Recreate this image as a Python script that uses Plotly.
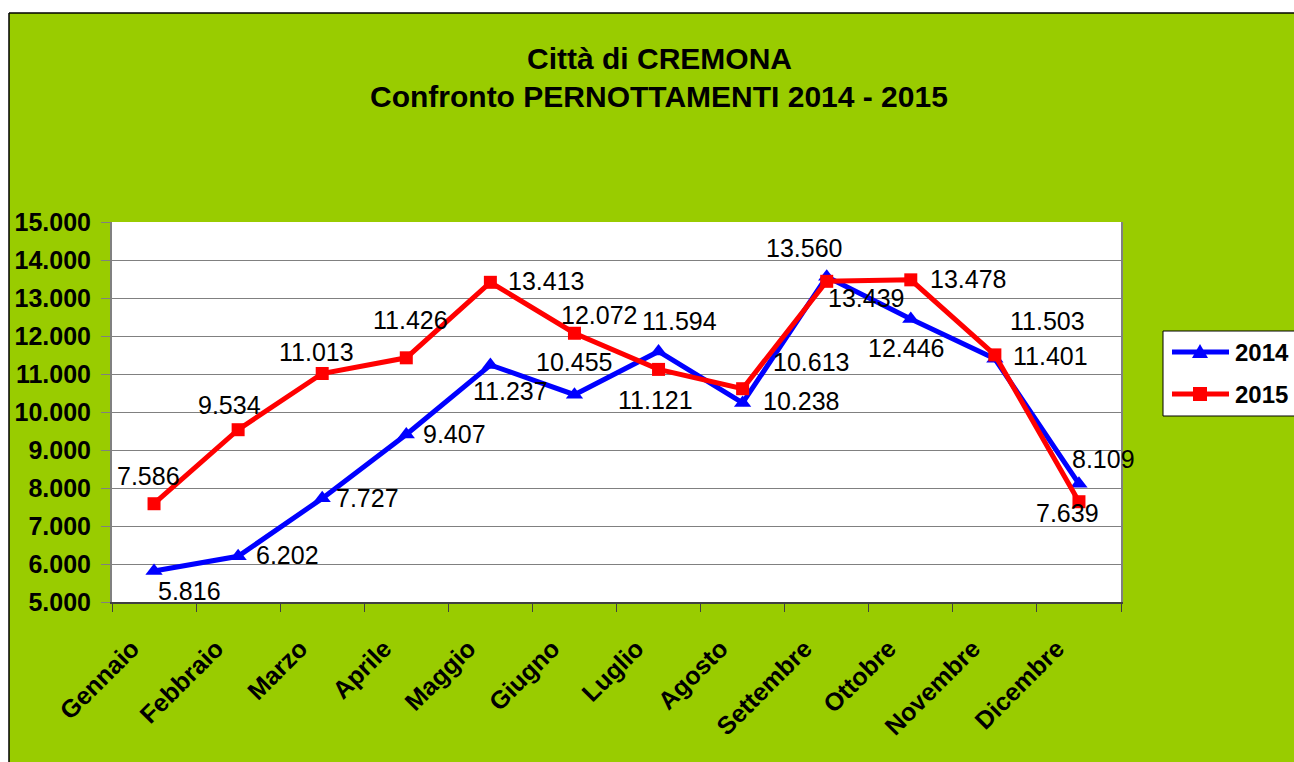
import plotly.graph_objects as go

months = ["Gennaio", "Febbraio", "Marzo", "Aprile", "Maggio", "Giugno",
          "Luglio", "Agosto", "Settembre", "Ottobre", "Novembre", "Dicembre"]
values_2014 = [5816, 6202, 7727, 9407, 11237, 10455, 11594, 10238, 13560, 12446, 11401, 8109]
values_2015 = [7586, 9534, 11013, 11426, 13413, 12072, 11121, 10613, 13439, 13478, 11503, 7639]
series_names = ["2014", "2015"]
title_lines = ["Città di CREMONA", "Confronto PERNOTTAMENTI 2014 - 2015"]

# label offsets in pixels (dx, dy down-positive)
offsets_2014 = [(35, 20), (49, -1), (45, 0), (48, -1), (20, 26), (0, -33),
                (21, -30), (58, -2), (-23, -29), (-5, 29), (56, -3), (25, -25)]
offsets_2015 = [(-6, -28), (-9, -25), (-6, -22), (4, -38), (56, -1), (25, -18),
                (-3, 31), (68, -27), (39, 17), (57, -1), (53, -34), (-11, 11)]

FONT = "Arial, 'Liberation Sans', sans-serif"
GREEN = "#99CC00"
BLUE = "#0000FF"
RED = "#FF0000"

W, H = 1294, 762
L, R, T, B = 112, 1121, 222, 602  # plot area in px
pw, ph = R - L, B - T


def px(x):
    return (x - L) / pw


def py(y):
    return (B - y) / ph


def fmt(v):
    return f"{v:,}".replace(",", ".")


fig = go.Figure()
fig.add_trace(go.Scatter(
    x=months, y=values_2014, name=series_names[0], mode="lines+markers",
    line=dict(color=BLUE, width=5),
    marker=dict(symbol="triangle-up", size=15, color=BLUE),
))
fig.add_trace(go.Scatter(
    x=months, y=values_2015, name=series_names[1], mode="lines+markers",
    line=dict(color=RED, width=5),
    marker=dict(symbol="square", size=13, color=RED),
))

annotations = []
for vals, offs in ((values_2014, offsets_2014), (values_2015, offsets_2015)):
    for m, v, (dx, dy) in zip(months, vals, offs):
        annotations.append(dict(
            x=m, y=v, xref="x", yref="y", text=fmt(v), showarrow=False,
            xshift=dx, yshift=-dy, xanchor="center", yanchor="middle",
            font=dict(family=FONT, size=25, color="black"),
        ))

for line, ycen in zip(title_lines, (58, 97)):
    annotations.append(dict(
        x=px(659), y=py(ycen), xref="paper", yref="paper", text=line,
        showarrow=False, xanchor="center", yanchor="middle",
        font=dict(family=FONT, size=30, color="black", weight="bold"),
    ))

shapes = [
    # white margin above and left of the chart frame
    dict(type="rect", xref="paper", yref="paper", x0=-1, x1=2,
         y0=py(13), y1=3, fillcolor="white", line=dict(width=0), layer="above"),
    dict(type="rect", xref="paper", yref="paper", x0=-1, x1=px(9),
         y0=-2, y1=3, fillcolor="white", line=dict(width=0), layer="above"),
    # black frame lines
    dict(type="line", xref="paper", yref="paper", x0=px(9), x1=2,
         y0=py(13), y1=py(13), line=dict(color="black", width=1.5), layer="above"),
    dict(type="line", xref="paper", yref="paper", x0=px(9), x1=px(9),
         y0=-2, y1=py(13), line=dict(color="black", width=1.5), layer="above"),
    # legend box
    dict(type="rect", xref="paper", yref="paper", x0=px(1163), x1=px(1310),
         y0=py(416), y1=py(331), fillcolor="white",
         line=dict(color="black", width=1), layer="above"),
]

# legend entries (line + marker + label)
legend_rows = [(series_names[0], BLUE, "triangle", 352), (series_names[1], RED, "square", 394)]
for name, col, sym, yc in legend_rows:
    shapes.append(dict(type="line", xref="paper", yref="paper",
                       x0=px(1172), x1=px(1229), y0=py(yc), y1=py(yc),
                       line=dict(color=col, width=5), layer="above"))
    cx = 1200
    if sym == "triangle":
        path = (f"M {px(cx - 8)} {py(yc + 6)} L {px(cx + 8)} {py(yc + 6)} "
                f"L {px(cx)} {py(yc - 8)} Z")
    else:
        path = (f"M {px(cx - 7)} {py(yc + 7)} L {px(cx + 7)} {py(yc + 7)} "
                f"L {px(cx + 7)} {py(yc - 7)} L {px(cx - 7)} {py(yc - 7)} Z")
    shapes.append(dict(type="path", xref="paper", yref="paper", path=path,
                       fillcolor=col, line=dict(color=col, width=0), layer="above"))
    annotations.append(dict(
        x=px(1233), y=py(yc), xref="paper", yref="paper", text=name,
        showarrow=False, xanchor="left", yanchor="middle",
        font=dict(family=FONT, size=24, color="black", weight="bold"),
    ))

fig.update_layout(
    width=W, height=H,
    margin=dict(l=L, r=W - R, t=T, b=H - B, pad=0),
    paper_bgcolor=GREEN, plot_bgcolor="white",
    separators=",.",
    font=dict(family=FONT, color="black"),
    showlegend=False,
    annotations=annotations,
    shapes=shapes,
)
fig.update_xaxes(
    type="category", categoryorder="array", categoryarray=months,
    range=[-0.5, len(months) - 0.5],
    showline=True, linecolor="#404040", linewidth=2, mirror=False,
    ticks="outside", tickson="boundaries", ticklen=8, tickcolor="#404040",
    tickangle=-45, showgrid=False,
    ticklabelshift=-22, ticklabelstandoff=20,
    tickfont=dict(family=FONT, size=25, color="black", weight="bold"),
)
fig.update_yaxes(
    range=[5000, 15000], dtick=1000, tickformat=",d",
    showline=True, linecolor="#808080", linewidth=2, mirror=True,
    ticks="outside", ticklen=9, tickcolor="#808080",
    ticklabelstandoff=5,
    showgrid=True, gridcolor="#808080", gridwidth=1, zeroline=False,
    tickfont=dict(family=FONT, size=25, color="black", weight="bold"),
)

fig.write_html(
    "out.html",
    config={"displayModeBar": False},
    post_script="document.body.style.margin='0';document.body.style.overflow='hidden';",
)
